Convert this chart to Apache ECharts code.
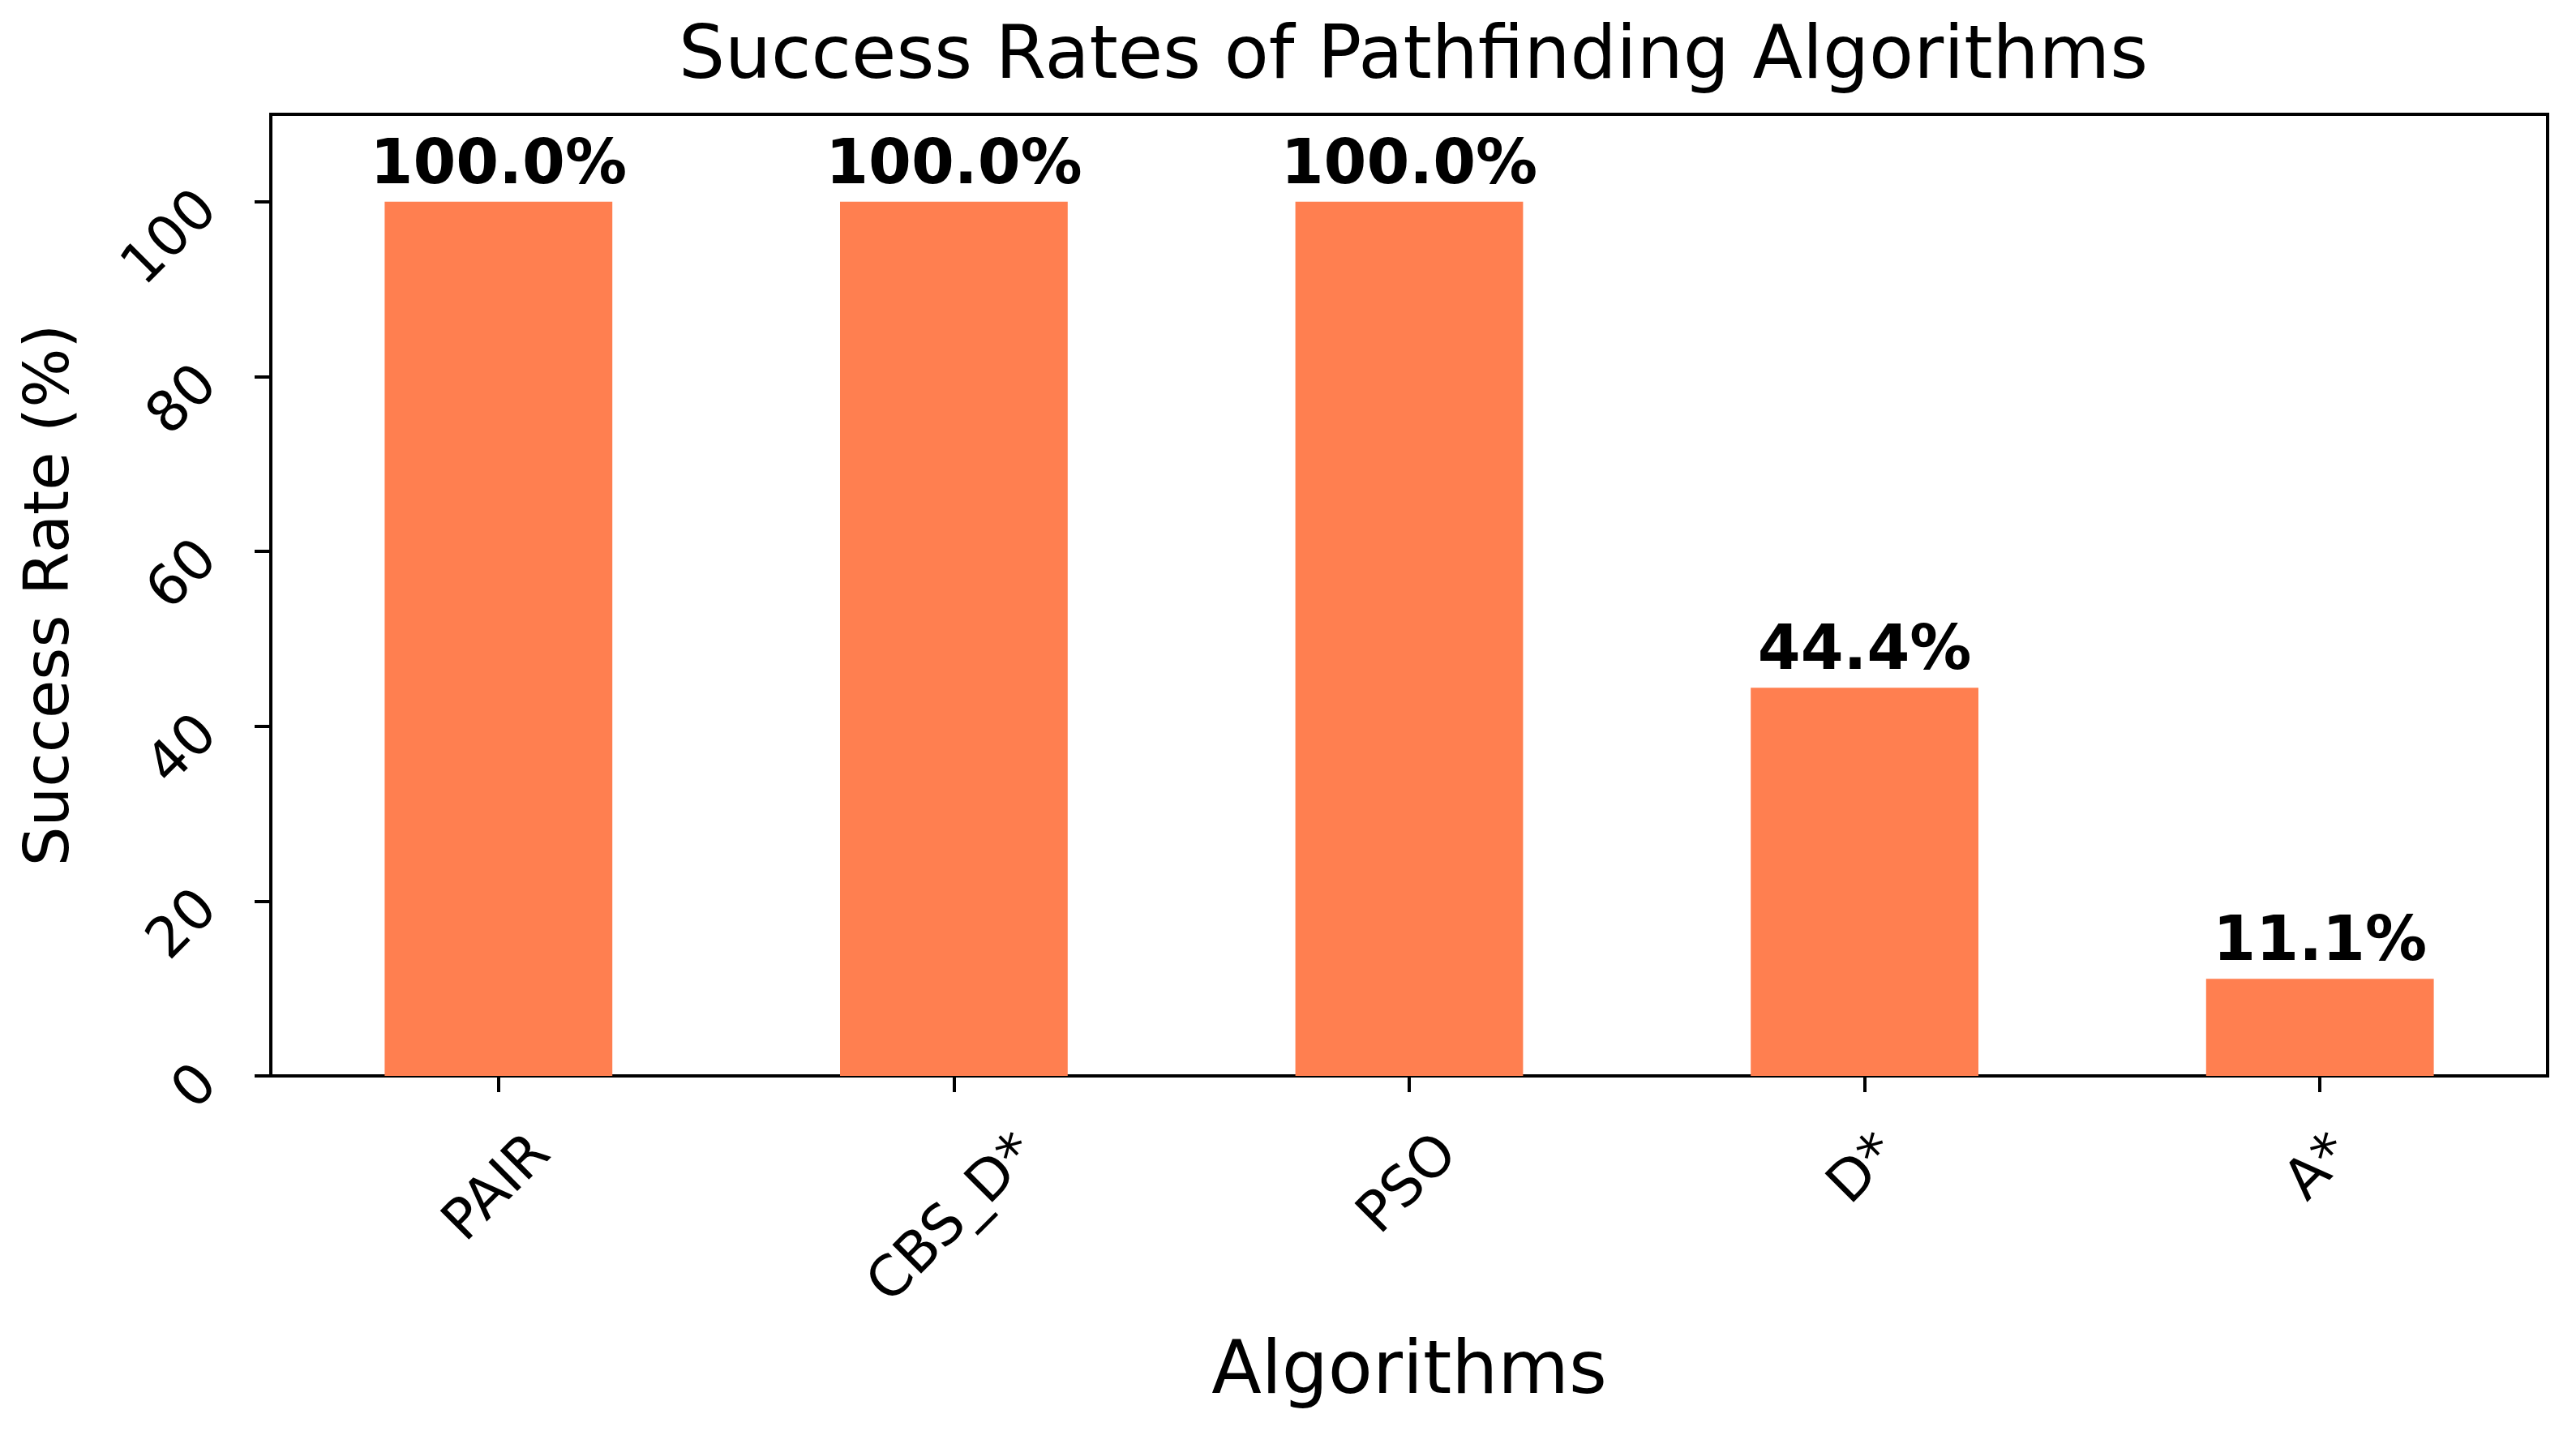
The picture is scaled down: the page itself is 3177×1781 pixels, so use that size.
<!DOCTYPE html>
<html>
<head>
<meta charset="utf-8">
<script src="https://cdn.jsdelivr.net/npm/echarts@6/dist/echarts.min.js"></script>
<style>
html,body{margin:0;padding:0;background:#fff;}
#chart{width:3177px;height:1781px;}
</style>
</head>
<body>
<div id="chart"></div>
<script>
const titleText = 'Success Rates of Pathfinding Algorithms';
const xAxisTitle = 'Algorithms';
const yAxisTitle = 'Success Rate (%)';
const categories = ['PAIR', 'CBS_D*', 'PSO', 'D*', 'A*'];
const successRates = [100.0, 100.0, 100.0, 44.4, 11.1];
const yTicks = [0, 20, 40, 60, 80, 100];
const yMin = 0;
const yMax = 110;

const FONT = '"DejaVu Sans", "Liberation Sans", sans-serif';
const tickFont = 69;
const gridLeft = 334, gridRight = 35, gridTop = 141, gridBottom = 454;

// per-label offsets so rotated labels are centred under ticks (matplotlib style)
const cv = document.createElement('canvas').getContext('2d');
cv.font = tickFont + 'px ' + FONT;
const labelMargin = 100;
const rich = {};
categories.forEach((c, i) => {
  const w = cv.measureText(c).width;
  const D = 68 + (w + 0.73 * tickFont) / (2 * Math.SQRT2);
  const P = Math.max(0, (D - labelMargin) * Math.SQRT2);
  rich['c' + i] = {
    fontSize: tickFont, fontFamily: FONT, color: '#000',
    padding: [P, P, 0, 0]
  };
});

const chart = echarts.init(document.getElementById('chart'), null, {renderer: 'canvas'});
chart.setOption({
  backgroundColor: '#fff',
  animation: false,
  title: {
    text: titleText,
    left: gridLeft + (3177 - gridLeft - gridRight) / 2,
    textAlign: 'center',
    top: 23,
    textStyle: {fontFamily: FONT, fontSize: 90, fontWeight: 'normal', color: '#000'}
  },
  grid: {
    left: gridLeft, right: gridRight, top: gridTop, bottom: gridBottom,
    show: true, borderColor: '#000', borderWidth: 4, backgroundColor: 'transparent',
    containLabel: false
  },
  xAxis: {
    type: 'category',
    data: categories,
    boundaryGap: true,
    name: xAxisTitle,
    nameLocation: 'middle',
    nameGap: 323,
    nameTextStyle: {fontFamily: FONT, fontSize: 90, color: '#000'},
    axisLine: {show: true, lineStyle: {color: '#000', width: 4}},
    axisTick: {show: true, alignWithLabel: true, length: 20, lineStyle: {color: '#000', width: 4}},
    axisLabel: {
      interval: 0,
      rotate: 45,
      align: 'center',
      verticalAlign: 'middle',
      margin: labelMargin,
      hideOverlap: false,
      formatter: (v) => '{c' + categories.indexOf(v) + '|' + v + '}',
      rich: rich,
      fontFamily: FONT, fontSize: tickFont, color: '#000'
    },
    splitLine: {show: false}
  },
  yAxis: {
    type: 'value',
    min: yMin,
    max: yMax,
    interval: 20,
    name: yAxisTitle,
    nameLocation: 'middle',
    nameGap: 232,
    nameTextStyle: {fontFamily: FONT, fontSize: 77, color: '#000'},
    axisLine: {show: true, lineStyle: {color: '#000', width: 4}},
    axisTick: {show: true, length: 20, customValues: yTicks, lineStyle: {color: '#000', width: 4}},
    axisLabel: {
      rotate: 45,
      margin: 76,
      customValues: yTicks,
      fontFamily: FONT, fontSize: tickFont, color: '#000'
    },
    splitLine: {show: false}
  },
  series: [{
    type: 'bar',
    data: successRates,
    barWidth: '50%',
    itemStyle: {color: '#FF7F50'},
    label: {
      show: true,
      position: 'top',
      distance: 5,
      formatter: p => p.value.toFixed(1) + '%',
      fontFamily: FONT, fontSize: 76, fontWeight: 'bold', color: '#000'
    }
  }]
});
</script>
</body>
</html>
